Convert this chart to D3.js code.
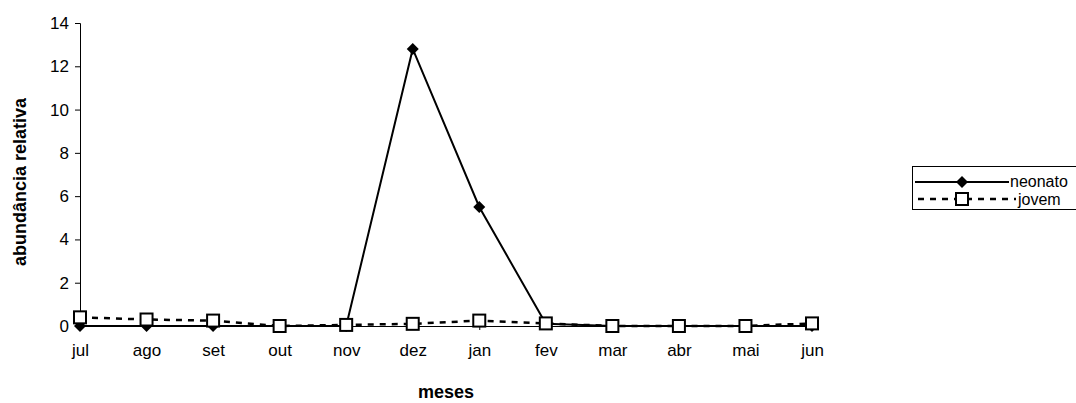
<!DOCTYPE html>
<html>
<head>
<meta charset="utf-8">
<script src="https://cdn.jsdelivr.net/npm/d3@7"></script>
<style>
  body { margin: 0; background: #fff; }
  text { font-family: "Liberation Sans", Arial, sans-serif; }
</style>
</head>
<body>
<script>
'use strict';

const months = ['jul', 'ago', 'set', 'out', 'nov', 'dez', 'jan', 'fev', 'mar', 'abr', 'mai', 'jun'];
const neonato = [0, 0, 0, 0, 0, 12.8, 5.5, 0.1, 0, 0, 0, 0];
const jovem = [0.4, 0.3, 0.25, 0, 0.05, 0.1, 0.25, 0.12, 0, 0, 0, 0.12];
const yTicks = [0, 2, 4, 6, 8, 10, 12, 14];

(function() {
  let width = 1076;
  let height = 403;

  let svg = d3.select('body').append('svg')
    .attr('width', width)
    .attr('height', height);

  let xScale = d3.scalePoint()
    .domain(months)
    .range([80, 812]);

  let yScale = d3.scaleLinear()
    .domain([0, 14])
    .range([326, 23]);

  // y axis
  let yAxis = d3.axisLeft(yScale).tickValues(yTicks).tickSize(5).tickPadding(6);
  let gy = svg.append('g')
    .attr('transform', 'translate(80,0)')
    .call(yAxis);
  gy.select('.domain').attr('stroke', '#000');
  gy.selectAll('.tick line').attr('stroke', '#000');
  gy.selectAll('.tick text').style('font-size', '17px').attr('fill', '#000');

  // x axis
  let xAxis = d3.axisBottom(xScale).tickSize(4).tickPadding(14);
  let gx = svg.append('g')
    .attr('transform', 'translate(0,' + yScale(0) + ')')
    .call(xAxis);
  gx.select('.domain').attr('d', 'M80,0.5H812').attr('stroke', '#000');
  gx.selectAll('.tick line').attr('stroke', '#000');
  gx.selectAll('.tick text').style('font-size', '17px').attr('fill', '#000');

  // titles
  svg.append('text')
    .attr('x', 446)
    .attr('y', 398)
    .attr('text-anchor', 'middle')
    .style('font-size', '18px')
    .style('font-weight', 'bold')
    .text('meses');

  svg.append('text')
    .attr('transform', 'translate(26,182)rotate(-90)')
    .attr('text-anchor', 'middle')
    .style('font-size', '18px')
    .style('font-weight', 'bold')
    .text('abundância relativa');

  let line = d3.line()
    .x((d, i) => xScale(months[i]))
    .y(d => yScale(d));

  let diamond = d3.symbol().type(d3.symbolSquare).size(72)();

  // neonato
  svg.append('path')
    .datum(neonato)
    .attr('d', line)
    .attr('fill', 'none')
    .attr('stroke', '#000')
    .attr('stroke-width', 2);

  svg.selectAll('.neo')
    .data(neonato)
    .enter()
    .append('path')
    .attr('class', 'neo')
    .attr('transform', (d, i) => 'translate(' + xScale(months[i]) + ',' + yScale(d) + ')rotate(45)')
    .attr('d', diamond)
    .attr('fill', '#000');

  // jovem
  svg.append('path')
    .datum(jovem)
    .attr('d', line)
    .attr('fill', 'none')
    .attr('stroke', '#000')
    .attr('stroke-width', 2.5)
    .attr('stroke-dasharray', '6,6');

  svg.selectAll('.jov')
    .data(jovem)
    .enter()
    .append('rect')
    .attr('class', 'jov')
    .attr('x', (d, i) => xScale(months[i]) - 6)
    .attr('y', d => yScale(d) - 6)
    .attr('width', 12)
    .attr('height', 12)
    .attr('fill', '#fff')
    .attr('stroke', '#000')
    .attr('stroke-width', 2);

  // legend
  let legend = svg.append('g');
  legend.append('rect')
    .attr('x', 912.5)
    .attr('y', 166.5)
    .attr('width', 170)
    .attr('height', 43)
    .attr('fill', '#fff')
    .attr('stroke', '#000');

  legend.append('line')
    .attr('x1', 915).attr('x2', 1009)
    .attr('y1', 182).attr('y2', 182)
    .attr('stroke', '#000').attr('stroke-width', 2);
  legend.append('path')
    .attr('transform', 'translate(962,182)rotate(45)')
    .attr('d', diamond)
    .attr('fill', '#000');
  legend.append('text')
    .attr('x', 1010).attr('y', 187)
    .style('font-size', '16px')
    .text('neonato');

  legend.append('line')
    .attr('x1', 918).attr('x2', 1016)
    .attr('y1', 199).attr('y2', 199)
    .attr('stroke', '#000').attr('stroke-width', 2.5)
    .attr('stroke-dasharray', '6,6');
  legend.append('rect')
    .attr('x', 956).attr('y', 193)
    .attr('width', 12).attr('height', 12)
    .attr('fill', '#fff')
    .attr('stroke', '#000').attr('stroke-width', 2);
  legend.append('text')
    .attr('x', 1018).attr('y', 205)
    .style('font-size', '16px')
    .text('jovem');
})();
</script>
</body>
</html>
